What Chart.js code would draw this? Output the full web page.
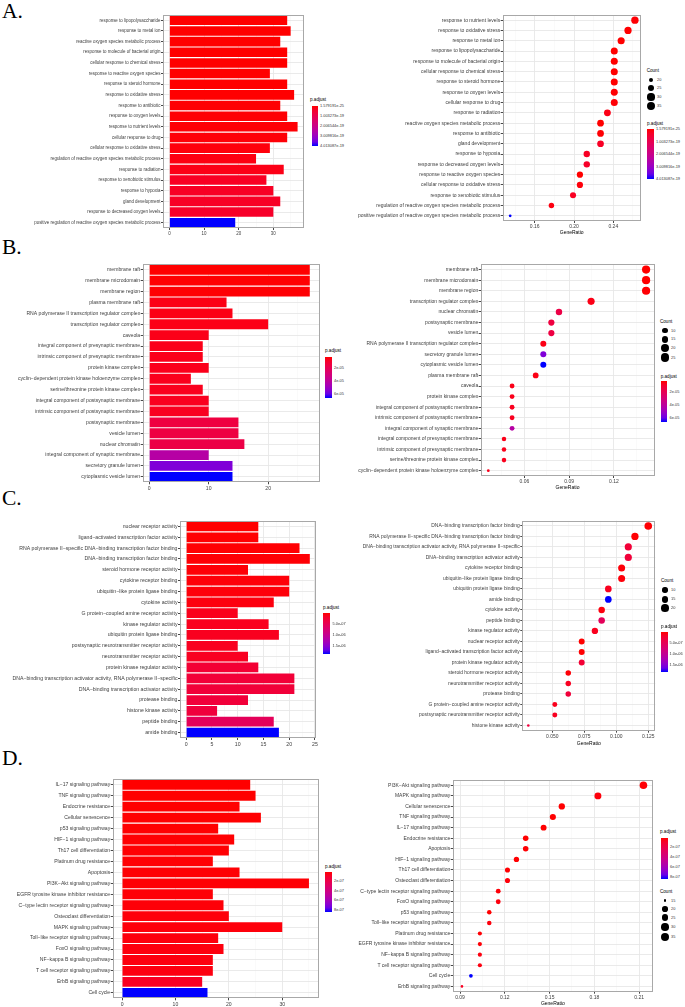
<!DOCTYPE html>
<html>
<head>
<meta charset="utf-8">
<script src="https://cdn.jsdelivr.net/npm/chart.js@4/dist/chart.umd.min.js"></script>
<style>
  body { margin: 0; background: #fff; width: 685px; height: 1007px; position: relative; overflow: hidden;
         font-family: "Liberation Sans", Arial, sans-serif; }
  canvas { position: absolute; }
  .tag { position: absolute; font-family: "Liberation Serif", "Times New Roman", serif; font-size: 21.5px;
         line-height: 1; color: #000; }
  .txt { position: absolute; line-height: 1; white-space: nowrap; transform: translateY(-50%); }
  .cbar, .key { position: absolute; }
  .key { background: #000; border-radius: 50%; }
</style>
</head>
<body>
<div class="tag" style="left:2px;top:1px">A.</div>
<div class="tag" style="left:2px;top:237px">B.</div>
<div class="tag" style="left:2px;top:488px">C.</div>
<div class="tag" style="left:2px;top:748px">D.</div>
<script>
// ---------- A. GO biological process ----------
const aTerms = [
  "response to lipopolysaccharide", "response to metal ion", "reactive oxygen species metabolic process",
  "response to molecule of bacterial origin", "cellular response to chemical stress",
  "response to reactive oxygen species", "response to steroid hormone", "response to oxidative stress",
  "response to antibiotic", "response to oxygen levels", "response to nutrient levels",
  "cellular response to drug", "cellular response to oxidative stress",
  "regulation of reactive oxygen species metabolic process", "response to radiation",
  "response to xenobiotic stimulus", "response to hypoxia", "gland development",
  "response to decreased oxygen levels", "positive regulation of reactive oxygen species metabolic process"
];
const aCount = [34, 35, 32, 34, 34, 29, 34, 36, 32, 34, 37, 34, 29, 25, 33, 28, 30, 32, 30, 19];
const aPadj = [1.579191e-25, 2.1e-24, 8.5e-24, 1.3e-23, 3.6e-23, 2.2e-22, 3.1e-22, 5.6e-22, 2.4e-21, 2.6e-21,
  3.5e-21, 4.2e-21, 6.9e-21, 1.1e-20, 1.6e-20, 3.0e-20, 3.2e-20, 3.3e-20, 3.8e-20, 4.013087e-19];
const aDotTerms = [
  "response to nutrient levels", "response to oxidative stress", "response to metal ion",
  "response to lipopolysaccharide", "response to molecule of bacterial origin",
  "cellular response to chemical stress", "response to steroid hormone", "response to oxygen levels",
  "cellular response to drug", "response to radiation", "reactive oxygen species metabolic process",
  "response to antibiotic", "gland development", "response to hypoxia", "response to decreased oxygen levels",
  "response to reactive oxygen species", "cellular response to oxidative stress",
  "response to xenobiotic stimulus", "regulation of reactive oxygen species metabolic process",
  "positive regulation of reactive oxygen species metabolic process"
];
const aRatio = [0.262, 0.255, 0.248, 0.241, 0.241, 0.241, 0.241, 0.241, 0.241, 0.234,
  0.227, 0.227, 0.227, 0.213, 0.213, 0.206, 0.206, 0.199, 0.177, 0.135];
const aBarTicks = [0, 10, 20, 30];
const aRatioTicks = [0.16, 0.20, 0.24];
const aRatioLabels = ["0.16", "0.20", "0.24"];
const aPadjBreaks = [1.579191e-25, 1.003273e-19, 2.006544e-19, 3.009816e-19, 4.013087e-19];
const aPadjLabels = ["1.579191e-25", "1.003273e-19", "2.006544e-19", "3.009816e-19", "4.013087e-19"];
const aCountKeys = [20, 25, 30, 35];

// ---------- B. GO cellular component ----------
const bTerms = [
  "membrane raft", "membrane microdomain", "membrane region", "plasma membrane raft",
  "RNA polymerase II transcription regulator complex", "transcription regulator complex", "caveola",
  "integral component of presynaptic membrane", "intrinsic component of presynaptic membrane",
  "protein kinase complex", "cyclin−dependent protein kinase holoenzyme complex",
  "serine/threonine protein kinase complex", "integral component of postsynaptic membrane",
  "intrinsic component of postsynaptic membrane", "postsynaptic membrane", "vesicle lumen",
  "nuclear chromatin", "integral component of synaptic membrane", "secretory granule lumen",
  "cytoplasmic vesicle lumen"
];
const bCount = [27, 27, 27, 13, 14, 20, 10, 9, 9, 10, 7, 9, 10, 10, 15, 15, 16, 10, 14, 14];
const bPadj = [2.2e-6, 2.4e-6, 2.6e-6, 4.4e-6, 4.6e-6, 4.8e-6, 5.0e-6, 5.2e-6, 5.3e-6, 5.5e-6,
  5.7e-6, 5.9e-6, 6.2e-6, 6.4e-6, 1.4e-5, 1.45e-5, 1.55e-5, 4.2e-5, 5.6e-5, 6.63e-5];
const bDotTerms = [
  "membrane raft", "membrane microdomain", "membrane region", "transcription regulator complex",
  "nuclear chromatin", "postsynaptic membrane", "vesicle lumen",
  "RNA polymerase II transcription regulator complex", "secretory granule lumen", "cytoplasmic vesicle lumen",
  "plasma membrane raft", "caveola", "protein kinase complex", "integral component of postsynaptic membrane",
  "intrinsic component of postsynaptic membrane", "integral component of synaptic membrane",
  "integral component of presynaptic membrane", "intrinsic component of presynaptic membrane",
  "serine/threonine protein kinase complex", "cyclin−dependent protein kinase holoenzyme complex"
];
const bRatio = [0.1415, 0.1415, 0.1415, 0.1047, 0.0832, 0.0781, 0.0781, 0.0727, 0.0727, 0.0727,
  0.0676, 0.0518, 0.0518, 0.0518, 0.0518, 0.0518, 0.0464, 0.0464, 0.0464, 0.0359];
const bBarTicks = [0, 10, 20];
const bRatioTicks = [0.06, 0.09, 0.12];
const bRatioLabels = ["0.06", "0.09", "0.12"];
const bPadjBreaks = [2e-5, 4e-5, 6e-5];
const bPadjLabels = ["2e-05", "4e-05", "6e-05"];
const bCountKeys = [10, 15, 20, 25];

// ---------- C. GO molecular function ----------
const cTerms = [
  "nuclear receptor activity", "ligand−activated transcription factor activity",
  "RNA polymerase II−specific DNA−binding transcription factor binding", "DNA−binding transcription factor binding",
  "steroid hormone receptor activity", "cytokine receptor binding", "ubiquitin−like protein ligase binding",
  "cytokine activity", "G protein−coupled amine receptor activity", "kinase regulator activity",
  "ubiquitin protein ligase binding", "postsynaptic neurotransmitter receptor activity",
  "neurotransmitter receptor activity", "protein kinase regulator activity",
  "DNA−binding transcription activator activity, RNA polymerase II−specific",
  "DNA−binding transcription activator activity", "protease binding", "histone kinase activity",
  "peptide binding", "amide binding"
];
const cCount = [14, 14, 22, 24, 12, 20, 20, 17, 10, 16, 18, 10, 12, 14, 21, 21, 12, 6, 17, 18];
const cPadj = [1e-8, 1.5e-8, 2e-8, 2.5e-8, 3e-8, 3.5e-8, 4e-8, 5e-8, 1.1e-7, 1.2e-7,
  1.3e-7, 1.35e-7, 1.4e-7, 2.6e-7, 2.9e-7, 3.0e-7, 3.1e-7, 3.2e-7, 5.5e-7, 1.86e-6];
const cDotTerms = [
  "DNA−binding transcription factor binding", "RNA polymerase II−specific DNA−binding transcription factor binding",
  "DNA−binding transcription activator activity, RNA polymerase II−specific",
  "DNA−binding transcription activator activity", "cytokine receptor binding",
  "ubiquitin−like protein ligase binding", "ubiquitin protein ligase binding", "amide binding",
  "cytokine activity", "peptide binding", "kinase regulator activity", "nuclear receptor activity",
  "ligand−activated transcription factor activity", "protein kinase regulator activity",
  "steroid hormone receptor activity", "neurotransmitter receptor activity", "protease binding",
  "G protein−coupled amine receptor activity", "postsynaptic neurotransmitter receptor activity",
  "histone kinase activity"
];
const cRatio = [0.125, 0.1146, 0.1094, 0.1094, 0.1042, 0.1042, 0.0938, 0.0938, 0.0886, 0.0886,
  0.0833, 0.073, 0.073, 0.073, 0.0625, 0.0625, 0.0625, 0.052, 0.052, 0.0313];
const cBarTicks = [0, 5, 10, 15, 20, 25];
const cRatioTicks = [0.05, 0.075, 0.1, 0.125];
const cRatioLabels = ["0.050", "0.075", "0.100", "0.125"];
const cPadjBreaks = [5e-7, 1e-6, 1.5e-6];
const cPadjLabels = ["5.0e-07", "1.0e-06", "1.5e-06"];
const cCountKeys = [10, 15, 20];

// ---------- D. KEGG ----------
const dTerms = [
  "IL−17 signaling pathway", "TNF signaling pathway", "Endocrine resistance", "Cellular senescence",
  "p53 signaling pathway", "HIF−1 signaling pathway", "Th17 cell differentiation", "Platinum drug resistance",
  "Apoptosis", "PI3K−Akt signaling pathway", "EGFR tyrosine kinase inhibitor resistance",
  "C−type lectin receptor signaling pathway", "Osteoclast differentiation", "MAPK signaling pathway",
  "Toll−like receptor signaling pathway", "FoxO signaling pathway", "NF−kappa B signaling pathway",
  "T cell receptor signaling pathway", "ErbB signaling pathway", "Cell cycle"
];
const dCount = [24, 25, 22, 26, 18, 21, 20, 17, 22, 35, 17, 19, 20, 30, 18, 19, 17, 17, 15, 16];
const dPadj = [1e-9, 1.5e-9, 2e-9, 2.5e-9, 3e-9, 4e-9, 5e-9, 6e-9, 7e-9, 8e-9,
  1e-8, 1.2e-8, 1.4e-8, 1.6e-8, 1.8e-8, 2e-8, 2.2e-8, 2.4e-8, 6.5e-8, 8.5e-7];
const dDotTerms = [
  "PI3K−Akt signaling pathway", "MAPK signaling pathway", "Cellular senescence", "TNF signaling pathway",
  "IL−17 signaling pathway", "Endocrine resistance", "Apoptosis", "HIF−1 signaling pathway",
  "Th17 cell differentiation", "Osteoclast differentiation", "C−type lectin receptor signaling pathway",
  "FoxO signaling pathway", "p53 signaling pathway", "Toll−like receptor signaling pathway",
  "Platinum drug resistance", "EGFR tyrosine kinase inhibitor resistance", "NF−kappa B signaling pathway",
  "T cell receptor signaling pathway", "Cell cycle", "ErbB signaling pathway"
];
const dRatio = [0.2129, 0.1824, 0.1582, 0.1522, 0.146, 0.134, 0.134, 0.1278, 0.1218, 0.1218,
  0.1156, 0.1156, 0.1096, 0.1096, 0.1033, 0.1033, 0.1033, 0.1033, 0.0973, 0.0913];
const dBarTicks = [0, 10, 20, 30];
const dRatioTicks = [0.09, 0.12, 0.15, 0.18, 0.21];
const dRatioLabels = ["0.09", "0.12", "0.15", "0.18", "0.21"];
const dPadjBreaks = [2e-7, 4e-7, 6e-7, 8e-7];
const dPadjLabels = ["2e-07", "4e-07", "6e-07", "8e-07"];
const dCountKeys = [15, 20, 25, 30, 35];

const FONT = "'Liberation Sans', Arial, sans-serif";
const TICK_TEXT = "#3d3d3d";

// red -> blue gradient, mixed in Lab like ggplot does
const WHITE = [0.95047, 1, 1.08883];
const lin = c => { c /= 255; return c <= 0.04045 ? c / 12.92 : Math.pow((c + 0.055) / 1.055, 2.4); };
const unlin = c => {
  c = c <= 0.0031308 ? 12.92 * c : 1.055 * Math.pow(Math.max(c, 0), 1 / 2.4) - 0.055;
  return Math.round(Math.min(1, Math.max(0, c)) * 255);
};
function toLab(rgb) {
  const [r, g, b] = rgb.map(lin);
  const xyz = [0.4124 * r + 0.3576 * g + 0.1805 * b, 0.2126 * r + 0.7152 * g + 0.0722 * b,
    0.0193 * r + 0.1192 * g + 0.9505 * b];
  const f = xyz.map((v, i) => { v /= WHITE[i]; return v > 0.008856 ? Math.cbrt(v) : 7.787 * v + 16 / 116; });
  return [116 * f[1] - 16, 500 * (f[0] - f[1]), 200 * (f[1] - f[2])];
}
function fromLab([L, a, b]) {
  const fy = (L + 16) / 116;
  const [X, Y, Z] = [fy + a / 500, fy, fy - b / 200].map((f, i) => {
    const v = f * f * f > 0.008856 ? f * f * f : (f - 16 / 116) / 7.787;
    return v * WHITE[i];
  });
  return [3.2406 * X - 1.5372 * Y - 0.4986 * Z, -0.9689 * X + 1.8758 * Y + 0.0415 * Z,
    0.0557 * X - 0.2040 * Y + 1.0570 * Z].map(unlin);
}
const LOW = toLab([255, 0, 0]);
const HIGH = toLab([0, 0, 255]);
function gradColor(t) {
  t = Math.min(1, Math.max(0, t));
  const [r, g, b] = fromLab(LOW.map((v, i) => v + (HIGH[i] - v) * t));
  return `rgb(${r},${g},${b})`;
}

const panelFrame = {
  id: "panelFrame",
  afterDraw(chart) {
    const a = chart.chartArea, ctx = chart.ctx;
    ctx.save();
    ctx.strokeStyle = "#a8a8a8";
    ctx.lineWidth = 1;
    ctx.strokeRect(Math.round(a.left) + 0.5, Math.round(a.top) + 0.5,
      Math.round(a.width) - 1, Math.round(a.height) - 1);
    ctx.restore();
  }
};

function minorsOf(major, min, max) {
  const step = major[1] - major[0];
  const out = [];
  for (let k = -1; k <= major.length + 2; k++) {
    const v = major[0] + step * (k + 0.5);
    if (v > min && v < max) out.push(v);
  }
  return out;
}

function valueAxis(cv, plot, o) {
  const near = (v, list) => list.findIndex(m => Math.abs(m - v) < 1e-9);
  const isMajor = c => c.tick && near(c.tick.value, o.ticks) >= 0;
  const all = o.ticks.concat(minorsOf(o.ticks, o.min, o.max)).sort((p, q) => p - q);
  return {
    type: "linear", min: o.min, max: o.max,
    afterBuildTicks: s => { s.ticks = all.map(v => ({ value: v })); },
    afterFit: s => { s.height = cv.y + cv.h - plot.bottom; },
    ticks: {
      autoSkip: false, maxRotation: 0, padding: 1, color: TICK_TEXT,
      font: { family: FONT, size: o.font },
      callback: v => { const i = near(v, o.ticks); return i < 0 ? "" : o.labels[i]; }
    },
    grid: {
      color: c => isMajor(c) ? "#e8e8e8" : "#f4f4f4",
      lineWidth: c => isMajor(c) ? 0.9 : 0.5,
      tickColor: c => isMajor(c) ? "#333" : "rgba(0,0,0,0)",
      tickLength: 2
    },
    border: { display: false },
    title: o.title
      ? { display: true, text: o.title, color: "#000", font: { family: FONT, size: 5 }, padding: 0 }
      : { display: false }
  };
}

function termAxis(cv, plot, labels, size) {
  return {
    type: "category", labels, offset: true,
    afterFit: s => { s.width = plot.left - cv.x; },
    ticks: { autoSkip: false, padding: 0.5, color: TICK_TEXT, font: { family: FONT, size } },
    grid: { offset: false, color: "#e8e8e8", lineWidth: 0.9, tickColor: "#333", tickLength: 2 },
    border: { display: false }
  };
}

function makeChart(cv, plot, config) {
  const canvas = document.createElement("canvas");
  canvas.width = cv.w;
  canvas.height = cv.h;
  Object.assign(canvas.style, { left: cv.x + "px", top: cv.y + "px", width: cv.w + "px", height: cv.h + "px" });
  document.body.appendChild(canvas);
  config.plugins = [panelFrame];
  Object.assign(config.options, {
    responsive: false, animation: false, devicePixelRatio: 1,
    layout: { padding: { top: plot.top - cv.y, right: cv.x + cv.w - plot.right, left: 0, bottom: 0 } },
    plugins: { legend: { display: false }, tooltip: { enabled: false } }
  });
  return new Chart(canvas, config);
}

function addText(text, x, y, size, color) {
  const d = document.createElement("div");
  d.className = "txt";
  d.textContent = text;
  Object.assign(d.style, { left: x + "px", top: y + "px", fontSize: size + "px", color });
  document.body.appendChild(d);
}

function colourLegend(L, range, breaks, labels) {
  addText("p.adjust", L.x, L.titleY, 4.6, "#000");
  const bar = document.createElement("div");
  bar.className = "cbar";
  const stops = [];
  for (let i = 0; i <= 10; i++) stops.push(`${gradColor(i / 10)} ${i * 10}%`);
  Object.assign(bar.style, {
    left: L.barX + "px", top: L.barY + "px", width: L.barW + "px", height: L.barH + "px",
    background: `linear-gradient(to bottom, ${stops.join(",")})`
  });
  document.body.appendChild(bar);
  breaks.forEach((v, i) => {
    const y = L.barY + (v - range[0]) / (range[1] - range[0]) * L.barH;
    addText(labels[i], L.labelX, y, 3.9, "#333");
  });
}

function countLegend(L, keys, radius) {
  addText("Count", L.x, L.titleY, 4.6, "#000");
  keys.forEach((k, i) => {
    const r = radius(k) * 1.1;
    const d = document.createElement("div");
    d.className = "key";
    Object.assign(d.style, { left: (L.cx - r) + "px", top: (L.ys[i] - r) + "px", width: 2 * r + "px", height: 2 * r + "px" });
    document.body.appendChild(d);
    addText(String(k), L.labelX, L.ys[i], 3.9, "#333");
  });
}

function drawPanel(p) {
  const range = [Math.min(...p.padj), Math.max(...p.padj)];
  const colorOf = v => gradColor((v - range[0]) / (range[1] - range[0]));
  const cMin = Math.min(...p.count), cMax = Math.max(...p.count);
  const radius = c => p.rMin + (p.rMax - p.rMin) * Math.sqrt(Math.max(0, (c - cMin) / (cMax - cMin)));
  const countOf = t => p.count[p.terms.indexOf(t)];
  const padjOf = t => p.padj[p.terms.indexOf(t)];

  const B = p.barBox;
  makeChart(B.cv, B.plot, {
    type: "bar",
    data: {
      labels: p.terms,
      datasets: [{
        data: p.count,
        backgroundColor: p.padj.map(colorOf),
        borderWidth: 0, barPercentage: 0.9, categoryPercentage: 1
      }]
    },
    options: {
      indexAxis: "y",
      scales: {
        x: valueAxis(B.cv, B.plot, { min: B.min, max: B.max, ticks: p.barTicks,
          labels: p.barTicks.map(String), font: B.font }),
        y: termAxis(B.cv, B.plot, p.terms, B.font)
      }
    }
  });

  const D = p.dotBox;
  makeChart(D.cv, D.plot, {
    type: "scatter",
    data: {
      datasets: [{
        data: p.dotTerms.map((t, i) => ({ x: p.ratio[i], y: t })),
        pointRadius: p.dotTerms.map(t => radius(countOf(t))),
        backgroundColor: p.dotTerms.map(t => colorOf(padjOf(t))),
        borderWidth: 0
      }]
    },
    options: {
      scales: {
        x: valueAxis(D.cv, D.plot, { min: D.min, max: D.max, ticks: p.ratioTicks,
          labels: p.ratioLabels, font: D.font, title: "GeneRatio" }),
        y: termAxis(D.cv, D.plot, p.dotTerms, D.font)
      }
    }
  });

  p.colourLegends.forEach(L => colourLegend(L, range, p.breaks, p.breakLabels));
  countLegend(p.countLegend, p.countKeys, radius);
}

drawPanel({
  terms: aTerms, count: aCount, padj: aPadj, dotTerms: aDotTerms, ratio: aRatio,
  barTicks: aBarTicks, ratioTicks: aRatioTicks, ratioLabels: aRatioLabels,
  breaks: aPadjBreaks, breakLabels: aPadjLabels, countKeys: aCountKeys, rMin: 1.4, rMax: 3.7,
  barBox: { cv: { x: 0, y: 0, w: 310, h: 240 }, plot: { left: 163, top: 15, right: 304, bottom: 228 },
    min: -1.85, max: 38.85, font: 4.45 },
  dotBox: { cv: { x: 345, y: 0, w: 300, h: 236 }, plot: { left: 502.7, top: 15, right: 640.7, bottom: 221 },
    min: 0.1274, max: 0.2679, font: 5.0 },
  colourLegends: [
    { x: 310, titleY: 100, barX: 311.7, barY: 106, barW: 6.6, barH: 39.7, labelX: 320 },
    { x: 647, titleY: 124, barX: 647, barY: 129, barW: 6.5, barH: 50, labelX: 656 }
  ],
  countLegend: { x: 646.7, titleY: 71, cx: 651, ys: [80, 88, 97, 106], labelX: 657 }
});

drawPanel({
  terms: bTerms, count: bCount, padj: bPadj, dotTerms: bDotTerms, ratio: bRatio,
  barTicks: bBarTicks, ratioTicks: bRatioTicks, ratioLabels: bRatioLabels,
  breaks: bPadjBreaks, breakLabels: bPadjLabels, countKeys: bCountKeys, rMin: 1.4, rMax: 4.1,
  barBox: { cv: { x: 0, y: 245, w: 325, h: 247 }, plot: { left: 142.7, top: 264.3, right: 319.3, bottom: 482.3 },
    min: -1.1, max: 28.6, font: 5.1 },
  dotBox: { cv: { x: 345, y: 245, w: 315, h: 246 }, plot: { left: 480.7, top: 264.3, right: 654.3, bottom: 476 },
    min: 0.0308, max: 0.147, font: 5.0 },
  colourLegends: [
    { x: 325, titleY: 351, barX: 325, barY: 357, barW: 7, barH: 40.7, labelX: 334 },
    { x: 660.7, titleY: 376.7, barX: 660.7, barY: 381, barW: 6.5, barH: 40.7, labelX: 669.5 }
  ],
  countLegend: { x: 660, titleY: 321.7, cx: 665, ys: [330.7, 339.3, 347.7, 357.7], labelX: 671 }
});

drawPanel({
  terms: cTerms, count: cCount, padj: cPadj, dotTerms: cDotTerms, ratio: cRatio,
  barTicks: cBarTicks, ratioTicks: cRatioTicks, ratioLabels: cRatioLabels,
  breaks: cPadjBreaks, breakLabels: cPadjLabels, countKeys: cCountKeys, rMin: 1.3, rMax: 3.8,
  barBox: { cv: { x: 0, y: 495, w: 320, h: 253 }, plot: { left: 180, top: 521, right: 316, bottom: 738 },
    min: -1.2, max: 25.2, font: 5.2 },
  dotBox: { cv: { x: 345, y: 495, w: 315, h: 252 }, plot: { left: 522.3, top: 520.7, right: 655.3, bottom: 730.7 },
    min: 0.0266, max: 0.1305, font: 4.95 },
  colourLegends: [
    { x: 323, titleY: 608, barX: 323.3, barY: 613, barW: 6.7, barH: 41, labelX: 332.5 },
    { x: 661, titleY: 626.7, barX: 661, barY: 632.3, barW: 6.5, barH: 40, labelX: 669.5 }
  ],
  countLegend: { x: 661, titleY: 581, cx: 665, ys: [590, 599.3, 608.3], labelX: 671 }
});

drawPanel({
  terms: dTerms, count: dCount, padj: dPadj, dotTerms: dDotTerms, ratio: dRatio,
  barTicks: dBarTicks, ratioTicks: dRatioTicks, ratioLabels: dRatioLabels,
  breaks: dPadjBreaks, breakLabels: dPadjLabels, countKeys: dCountKeys, rMin: 1.3, rMax: 3.8,
  barBox: { cv: { x: 0, y: 750, w: 322, h: 257 }, plot: { left: 112.7, top: 779.3, right: 318.3, bottom: 998.3 },
    min: -1.75, max: 36.75, font: 5.1 },
  dotBox: { cv: { x: 345, y: 750, w: 312, h: 257 }, plot: { left: 452.7, top: 780, right: 653.3, bottom: 991.7 },
    min: 0.0851, max: 0.2193, font: 5.0 },
  colourLegends: [
    { x: 325, titleY: 867.3, barX: 325, barY: 871.7, barW: 7, barH: 40.6, labelX: 334 },
    { x: 660, titleY: 832.3, barX: 660.7, barY: 837.7, barW: 7, barH: 41.3, labelX: 670 }
  ],
  countLegend: { x: 660, titleY: 891.7, cx: 665, ys: [900.7, 909.3, 917.7, 927, 937.3], labelX: 671 }
});
</script>
</body>
</html>
